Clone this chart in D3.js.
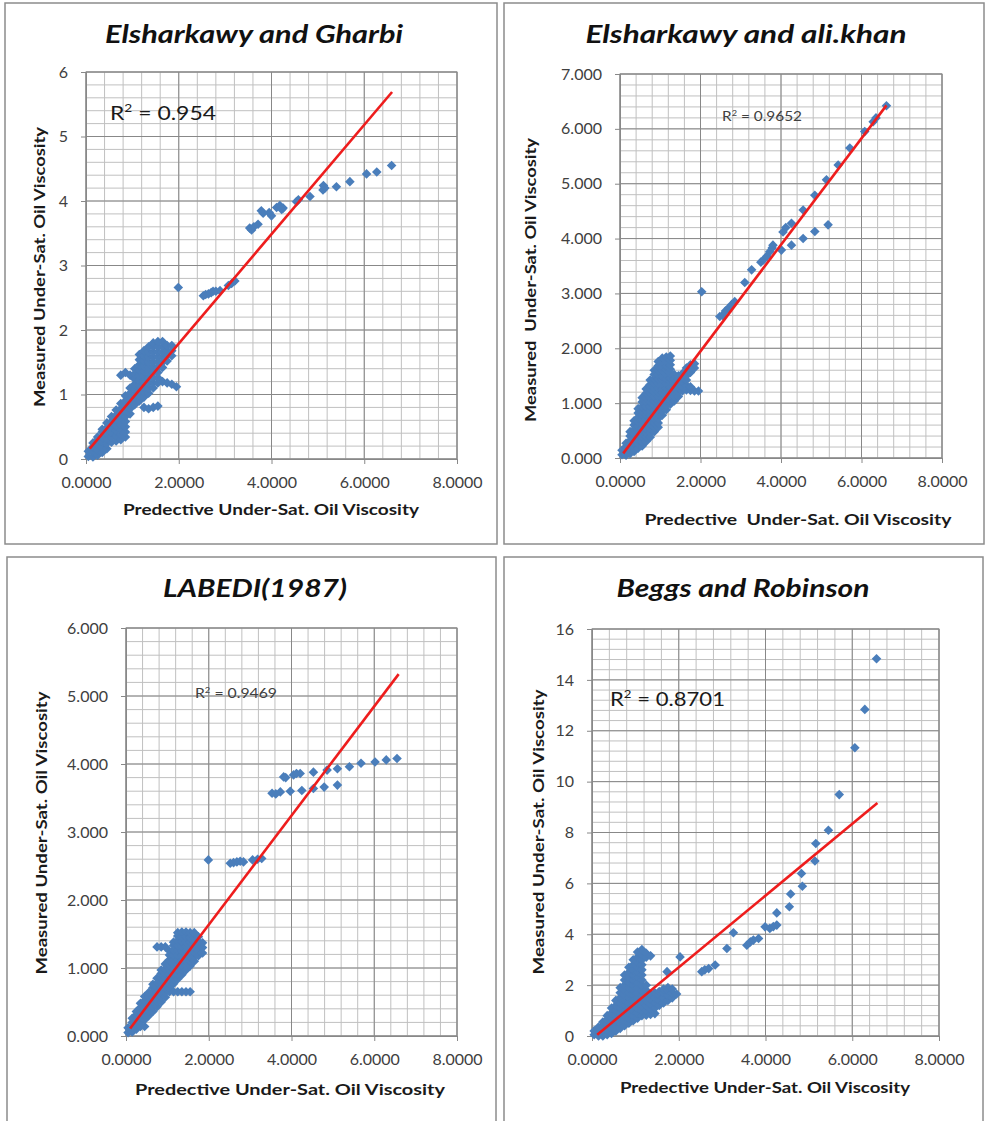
<!DOCTYPE html>
<html><head><meta charset="utf-8">
<script src="https://cdn.jsdelivr.net/npm/d3@7"></script>
<style>body{margin:0;background:#fff} svg{display:block}</style>
</head><body><svg id="c" width="987" height="1121"></svg>
<script>
// ---------------- DATA ----------------
const titles = ["Elsharkawy and Gharbi", "Elsharkawy and ali.khan", "LABEDI(1987)", "Beggs and Robinson"];
const r2Labels = ["0.954", "0.9652", "0.9469", "0.8701"];
const yAxisTitles = ["Measured Under-Sat. Oil Viscosity", "Measured  Under-Sat. Oil Viscosity", "Measured Under-Sat. Oil Viscosity", "Measured Under-Sat. Oil Viscosity"];
const xAxisTitles = ["Predective Under-Sat. Oil Viscosity", "Predective  Under-Sat. Oil Viscosity", "Predective Under-Sat. Oil Viscosity", "Predective Under-Sat. Oil Viscosity"];
const xTickValues = [0, 2, 4, 6, 8];
const yTickValues1 = [0, 1, 2, 3, 4, 5, 6];
const yTickValues2 = [0, 1, 2, 3, 4, 5, 6, 7];
const yTickValues3 = [0, 1, 2, 3, 4, 5, 6];
const yTickValues4 = [0, 2, 4, 6, 8, 10, 12, 14, 16];
const trendSlopes = [0.848, 0.970, 0.803, 1.41];
const trendIntercepts = [0.093, 0.007, 0.03, -0.12];
const trendXRanges = [[0.08, 6.6], [0.08, 6.62], [0.1, 6.59], [0.12, 6.58]];

// scattered points (predicted x, measured y)
const points1 = [[3.53,3.58],[3.57,3.55],[3.62,3.6],[3.71,3.64],[3.82,3.81],[3.78,3.85],[4.0,3.77],[3.95,3.82],[4.11,3.9],[4.18,3.93],[4.25,3.89],[4.22,3.87],[4.54,3.99],[4.58,4.02],[4.83,4.07],[5.11,4.17],[5.15,4.2],[5.12,4.24],[5.40,4.22],[5.69,4.3],[6.05,4.42],[6.27,4.45],[6.59,4.55],
  [1.99,2.66],[2.53,2.53],[2.58,2.55],[2.64,2.56],[2.70,2.58],[2.74,2.60],[2.80,2.60],[2.89,2.61],[3.07,2.69],[3.14,2.72],[3.21,2.76]];
// dense cluster, listed column by column: [x, [y values]]
const blob1 = [[0.05,[0.04,0.12]],[0.15,[0.03,0.11,0.19,0.25]],[0.25,[0.06,0.14,0.22,0.30,0.34]],[0.35,[0.10,0.18,0.26,0.34,0.42,0.46]],
  [0.45,[0.16,0.24,0.32,0.40,0.48,0.56]],[0.55,[0.26,0.34,0.42,0.50,0.58,0.66]],[0.65,[0.28,0.36,0.44,0.52,0.60,0.68,0.76]],
  [0.75,[0.30,0.38,0.46,0.54,0.62,0.70,0.78,0.86,1.30]],[0.85,[0.34,0.42,0.50,0.58,0.66,0.74,0.82,0.90,0.98,1.34]],
  [0.95,[0.70,0.78,0.86,0.94,1.02,1.10,1.30]],[1.05,[0.84,0.92,1.00,1.08,1.16,1.24,1.32,1.40]],
  [1.15,[0.90,0.98,1.06,1.14,1.22,1.30,1.38,1.46,1.54,1.62]],[1.25,[0.80,0.96,1.04,1.12,1.20,1.28,1.36,1.44,1.52,1.60,1.68]],
  [1.35,[0.78,1.02,1.10,1.18,1.26,1.34,1.42,1.50,1.58,1.66,1.74]],[1.45,[0.80,1.10,1.18,1.26,1.34,1.42,1.50,1.58,1.66,1.74,1.80]],
  [1.55,[0.82,1.18,1.26,1.34,1.42,1.50,1.58,1.66,1.74,1.82]],[1.65,[1.20,1.42,1.50,1.58,1.66,1.74,1.82]],[1.75,[1.18,1.52,1.60,1.68,1.76]],
  [1.85,[1.16,1.60,1.68,1.76]],[1.95,[1.12]]];

const points2 = [[2.03,3.03],[2.48,2.58],[2.55,2.6],[2.62,2.68],[2.69,2.73],[2.78,2.8],[2.85,2.85],[3.10,3.20],[3.27,3.43],[3.5,3.57],[3.56,3.61],[3.65,3.68],[3.72,3.76],[3.80,3.88],[3.78,3.83],[4.05,4.12],[4.12,4.2],[4.26,4.28],[4.55,4.52],[4.84,4.79],[5.13,5.07],[5.42,5.34],[5.71,5.65],[6.08,5.95],[6.29,6.13],[6.36,6.2],[6.62,6.42],
  [4.01,3.79],[4.26,3.88],[4.55,4.00],[4.84,4.13],[5.17,4.25]];
const blob2 = [[0.05,[0.06,0.14]],[0.15,[0.05,0.13,0.21,0.27]],[0.25,[0.08,0.16,0.24,0.32,0.40,0.48]],
  [0.35,[0.12,0.20,0.28,0.36,0.44,0.52,0.60,0.68]],[0.45,[0.18,0.26,0.34,0.42,0.50,0.58,0.66,0.74,0.82,0.90]],
  [0.55,[0.22,0.30,0.38,0.46,0.54,0.62,0.70,0.78,0.86,0.94,1.02,1.10]],[0.65,[0.30,0.38,0.46,0.54,0.62,0.70,0.78,0.86,0.94,1.02,1.10,1.18,1.26]],
  [0.75,[0.38,0.46,0.54,0.62,0.70,0.78,0.86,0.94,1.02,1.10,1.18,1.26,1.34,1.42]],
  [0.85,[0.48,0.56,0.64,0.72,0.80,0.88,0.96,1.04,1.12,1.20,1.28,1.36,1.44,1.52,1.60]],
  [0.95,[0.56,0.64,0.72,0.80,0.88,0.96,1.04,1.12,1.20,1.28,1.36,1.44,1.52,1.60,1.68,1.76]],
  [1.05,[0.78,0.86,0.94,1.02,1.10,1.18,1.26,1.34,1.42,1.50,1.58,1.66,1.74,1.82]],
  [1.15,[0.88,0.96,1.04,1.12,1.20,1.28,1.36,1.44,1.52,1.60,1.68,1.76,1.84]],
  [1.25,[0.98,1.06,1.14,1.22,1.30,1.38,1.46,1.54,1.62,1.70,1.78,1.86]],
  [1.35,[1.04,1.12,1.20,1.28,1.36,1.44,1.52]],[1.45,[1.12,1.20,1.28,1.36,1.44,1.50]],[1.55,[1.22,1.30,1.38,1.46,1.54]],
  [1.65,[1.24,1.32,1.42,1.50,1.58,1.64]],[1.75,[1.23,1.30,1.56,1.64,1.70]],[1.85,[1.22,1.64,1.72]],[1.95,[1.22]]];

const points3 = [[6.55,4.08],[6.29,4.06],[6.02,4.03],[5.68,4.01],[5.40,3.96],[5.11,3.93],[4.86,3.91],[4.53,3.88],[4.21,3.86],[4.05,3.84],[4.12,3.86],[3.81,3.81],[3.86,3.8],
  [5.11,3.69],[4.79,3.66],[4.53,3.64],[4.25,3.61],[3.97,3.60],[3.73,3.59],[3.53,3.57],[3.62,3.56],
  [1.99,2.59],[2.52,2.54],[2.6,2.55],[2.68,2.56],[2.76,2.57],[2.84,2.56],[3.06,2.59],[3.18,2.6],[3.28,2.61]];
const blob3 = [[0.05,[0.05,0.12]],[0.15,[0.06,0.13,0.20,0.26]],[0.25,[0.10,0.17,0.24,0.31,0.36]],[0.35,[0.14,0.21,0.28,0.35,0.42,0.48]],
  [0.45,[0.14,0.24,0.31,0.38,0.45,0.52,0.58]],[0.55,[0.30,0.37,0.44,0.51,0.58,0.64]],[0.65,[0.36,0.43,0.50,0.57,0.64,0.71,0.76]],
  [0.75,[0.43,0.50,0.57,0.64,0.71,0.78,0.85,1.31]],[0.85,[0.50,0.57,0.64,0.71,0.78,0.85,0.92,0.97,1.31]],
  [0.95,[0.57,0.64,0.71,0.78,0.85,0.92,0.99,1.06,1.31]],[1.05,[0.65,0.70,0.77,0.84,0.91,0.98,1.05,1.12,1.19,1.25]],
  [1.15,[0.65,0.77,0.84,0.91,0.98,1.05,1.12,1.19,1.26,1.33,1.38]],[1.25,[0.65,0.84,0.91,0.98,1.05,1.12,1.19,1.26,1.33,1.40,1.47,1.52]],
  [1.35,[0.65,0.90,0.97,1.04,1.11,1.18,1.25,1.32,1.39,1.46,1.53]],[1.45,[0.65,0.97,1.04,1.11,1.18,1.25,1.32,1.39,1.46,1.53]],
  [1.55,[0.65,1.03,1.10,1.17,1.24,1.31,1.38,1.45,1.52]],[1.65,[1.10,1.17,1.24,1.31,1.38,1.45,1.52]],[1.75,[1.18,1.25,1.32,1.39,1.46]],
  [1.85,[1.22,1.30,1.37]]];

const points4 = [[6.56,14.83],[6.29,12.84],[6.06,11.33],[5.70,9.49],[5.45,8.09],[5.16,7.57],[5.14,6.88],[4.83,6.39],[4.85,5.89],[4.58,5.58],[4.55,5.08],[4.26,4.84],[4.26,4.36],[4.10,4.23],[3.99,4.29],[4.18,4.3],
  [3.84,3.83],[3.72,3.77],[3.65,3.7],[3.57,3.57],[3.26,4.06],[3.11,3.44],[2.84,2.79],[2.69,2.65],[2.6,2.6],[2.53,2.53],[2.03,3.11],[1.73,2.53]];
const blob4 = [[0.05,[0.05,0.2]],[0.15,[0.0,0.2,0.35]],[0.25,[0.0,0.2,0.4,0.55]],[0.35,[0.05,0.25,0.45,0.65,0.8]],
  [0.45,[0.1,0.3,0.5,0.7,0.9,1.1]],[0.55,[0.2,0.4,0.6,0.8,1.0,1.2,1.4]],[0.65,[0.3,0.5,0.7,0.9,1.1,1.3,1.5,1.7,1.9]],
  [0.75,[0.4,0.6,0.8,1.0,1.2,1.4,1.6,1.8,2.0,2.2,2.4]],[0.85,[0.5,0.7,0.9,1.1,1.3,1.5,1.7,1.9,2.1,2.3,2.5,2.7]],
  [0.95,[0.6,0.8,1.0,1.2,1.4,1.6,1.8,2.0,2.2,2.4,2.6,2.8,3.0]],[1.05,[0.7,0.9,1.1,1.3,1.5,1.7,1.9,2.1,2.3,2.5,2.7,2.9,3.1,3.3]],
  [1.15,[0.8,1.0,1.2,1.4,1.6,1.8,2.0,2.2,2.4,2.6,2.8,3.0,3.2,3.4]],[1.25,[0.82,1.0,1.2,1.4,1.6,1.8,2.0,3.1,3.25]],
  [1.35,[0.85,1.05,1.25,1.45,1.65,3.15]],[1.45,[0.88,1.1,1.3,1.5,1.7]],[1.55,[1.2,1.4,1.6,1.75]],[1.65,[1.3,1.5,1.7,1.85]],
  [1.75,[1.4,1.6,1.8,1.9]],[1.85,[1.5,1.7,1.85]],[1.95,[1.65]]];

// ---------------- LAYOUT ----------------
const panels = [
  {box:[5,3,497,544],   plot:[86,72,457,459],   yMax:6,  yTicks:yTickValues1, yMinor:0.2, yFmt:d3.format("d"),
   title:[254,43,298], r2:[110,120,106,20], yTitle:[45,267,280], xTitle:[271,515,296], pts:points1, blob:blob1},
  {box:[504,3,984,544], plot:[620,74,942,458],  yMax:7,  yTicks:yTickValues2, yMinor:0.2, yFmt:d3.format(".3f"),
   title:[746,43,321], r2:[722,121,80,12.5], yTitle:[536,280,284], xTitle:[798,525,307], pts:points2, blob:blob2},
  {box:[7,557,496,1130], plot:[126,628,457,1036], yMax:6, yTicks:yTickValues3, yMinor:0.2, yFmt:d3.format(".3f"),
   title:[255,597,184], r2:[195,698,82,12.5], yTitle:[47,833,283], xTitle:[290,1095,310], pts:points3, blob:blob3},
  {box:[504,557,983,1130], plot:[592,629,939,1036], yMax:16, yTicks:yTickValues4, yMinor:0.4, yFmt:d3.format("d"),
   title:[743,597,253], r2:[610,706,115,20], yTitle:[544,832,285], xTitle:[765,1093,290], pts:points4, blob:blob4}
];

const svg = d3.select("#c");
const FONT = "Lato, 'Open Sans', sans-serif";
const markerColor = "#4a7ebb";
const diamond = d3.symbol().type(d3.symbolSquare).size(46)();

panels.forEach((p, i) => {
  const g = svg.append("g");
  const [bx0, by0, bx1, by1] = p.box;
  g.append("rect").attr("x", bx0).attr("y", by0).attr("width", bx1 - bx0).attr("height", by1 - by0)
    .attr("fill", "#fff").attr("stroke", "#8c8c8c").attr("stroke-width", 1.5);

  const [px0, py0, px1, py1] = p.plot;
  const x = d3.scaleLinear().domain([0, 8]).range([px0, px1]);
  const y = d3.scaleLinear().domain([0, p.yMax]).range([py1, py0]);

  // minor grid
  const xMinor = d3.range(0, 8.0001, 0.4);
  const yMinor = d3.range(0, p.yMax + 0.0001, p.yMinor);
  g.append("g").selectAll("line").data(xMinor).join("line")
    .attr("x1", d => x(d)).attr("x2", d => x(d)).attr("y1", py0).attr("y2", py1)
    .attr("stroke", "#c0c0c0").attr("stroke-width", 1);
  g.append("g").selectAll("line").data(yMinor).join("line")
    .attr("x1", px0).attr("x2", px1).attr("y1", d => y(d)).attr("y2", d => y(d))
    .attr("stroke", "#c0c0c0").attr("stroke-width", 1);
  // major grid
  g.append("g").selectAll("line").data(xTickValues).join("line")
    .attr("x1", d => x(d)).attr("x2", d => x(d)).attr("y1", py0).attr("y2", py1)
    .attr("stroke", "#888").attr("stroke-width", 1);
  g.append("g").selectAll("line").data(p.yTicks).join("line")
    .attr("x1", px0).attr("x2", px1).attr("y1", d => y(d)).attr("y2", d => y(d))
    .attr("stroke", "#888").attr("stroke-width", 1);
  g.append("rect").attr("x", px0).attr("y", py0).attr("width", px1 - px0).attr("height", py1 - py0)
    .attr("fill", "none").attr("stroke", "#888").attr("stroke-width", 1);

  // axes
  const xa = g.append("g").attr("transform", `translate(0,${py1})`)
    .call(d3.axisBottom(x).tickValues(xTickValues).tickFormat(d3.format(".4f")).tickSize(5).tickPadding(10));
  const ya = g.append("g").attr("transform", `translate(${px0},0)`)
    .call(d3.axisLeft(y).tickValues(p.yTicks).tickFormat(p.yFmt).tickSize(5).tickPadding(13));
  [xa, ya].forEach(a => {
    a.select(".domain").attr("stroke", "#888");
    a.selectAll(".tick line").attr("stroke", "#888");
    a.selectAll("text").attr("font-family", FONT).attr("font-size", 16).attr("fill", "#404040");
  });
  xa.selectAll("text").attr("dy", "0.9em");

  // points
  const blobPts = [];
  p.blob.forEach(([bx, ys]) => ys.forEach(v => blobPts.push([bx, v])));
  const allPts = blobPts.concat(p.pts);
  g.append("g").selectAll("path").data(allPts).join("path")
    .attr("d", diamond)
    .attr("transform", d => `translate(${x(d[0])},${y(d[1])}) rotate(45)`)
    .attr("fill", markerColor);

  // trendline
  const tx = trendXRanges[i];
  g.append("line")
    .attr("x1", x(tx[0])).attr("y1", y(trendSlopes[i] * tx[0] + trendIntercepts[i]))
    .attr("x2", x(tx[1])).attr("y2", y(trendSlopes[i] * tx[1] + trendIntercepts[i]))
    .attr("stroke", "#ee1d1d").attr("stroke-width", 2.6);

  // R² label
  const [rx, ry, rw, rs] = p.r2;
  const rt = g.append("text").attr("x", rx).attr("y", ry).attr("font-family", FONT).attr("font-size", rs)
    .attr("fill", rs > 14 ? "#1a1a1a" : "#404040")
    .attr("textLength", rw).attr("lengthAdjust", "spacingAndGlyphs");
  rt.append("tspan").text("R");
  rt.append("tspan").attr("dy", -rs * 0.4).attr("font-size", rs * 0.6).text("2");
  rt.append("tspan").attr("dy", rs * 0.4).text(" = " + r2Labels[i]);

  // title
  const [tcx, tby, tw] = p.title;
  g.append("text").attr("x", tcx).attr("y", tby).attr("text-anchor", "middle")
    .attr("font-family", FONT).attr("font-weight", "bold").attr("font-style", "italic").attr("font-size", 25)
    .attr("fill", "#111").attr("textLength", tw).attr("lengthAdjust", "spacingAndGlyphs")
    .text(titles[i]);

  // axis titles
  const [ycx, ycy, yl] = p.yTitle;
  g.append("text").attr("transform", `translate(${ycx},${ycy}) rotate(-90)`).attr("text-anchor", "middle")
    .attr("font-family", FONT).attr("font-weight", "bold").attr("font-size", 15.5).attr("fill", "#1a1a1a")
    .style("white-space", "pre").attr("textLength", yl).attr("lengthAdjust", "spacingAndGlyphs")
    .text(yAxisTitles[i]);
  const [xcx, xby, xl] = p.xTitle;
  g.append("text").attr("x", xcx).attr("y", xby).attr("text-anchor", "middle")
    .attr("font-family", FONT).attr("font-weight", "bold").attr("font-size", 15.5).attr("fill", "#1a1a1a")
    .style("white-space", "pre").attr("textLength", xl).attr("lengthAdjust", "spacingAndGlyphs")
    .text(xAxisTitles[i]);
});
</script></body></html>
